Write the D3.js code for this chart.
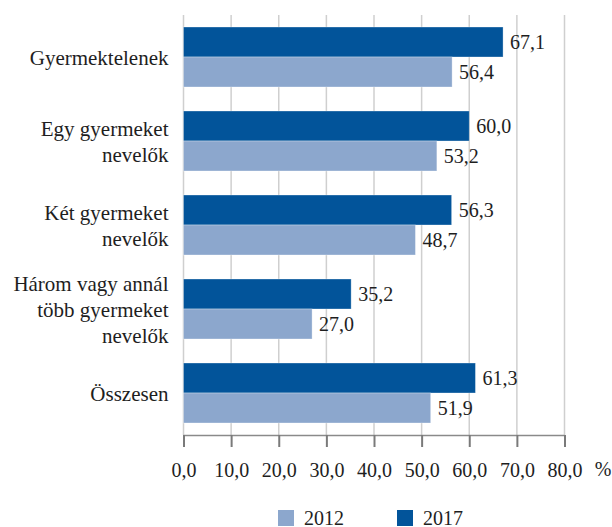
<!DOCTYPE html>
<html>
<head>
<meta charset="utf-8">
<script src="https://d3js.org/d3.v7.min.js"></script>
<style>
  body { margin: 0; background: #fff; }
  svg { display: block; }
  .grid line { stroke: #cfcfcf; stroke-width: 1.5px; }
</style>
</head>
<body>
<svg id="chart" width="612" height="527"></svg>
<script>
// categories, each label split into lines
const categories = [
  ["Gyermektelenek"],
  ["Egy gyermeket", "nevelők"],
  ["Két gyermeket", "nevelők"],
  ["Három vagy annál", "több gyermeket", "nevelők"],
  ["Összesen"]
];
const years = ["2017", "2012"];
const values2017 = [67.1, 60.0, 56.3, 35.2, 61.3];
const values2012 = [56.4, 53.2, 48.7, 27.0, 51.9];
const ticks = [0, 10, 20, 30, 40, 50, 60, 70, 80];
const colors = { "2017": "#02549a", "2012": "#8ca7cd" };

const FONT = "Liberation Serif";
const TXT = "#1e1e1e";

const svg = d3.select("#chart");
const plotLeft = 183.5, plotRight = 564.5, plotTop = 15, plotBottom = 435;

const x = d3.scaleLinear().domain([0, 80]).range([plotLeft, plotRight]);
const y = d3.scaleBand().domain(d3.range(categories.length)).range([plotTop, plotBottom])
            .paddingInner(24 / 84).paddingOuter(12 / 84);
const ySub = d3.scaleBand().domain(years).range([0, y.bandwidth()]);

const fmt = v => v.toFixed(1).replace(".", ",");

// gridlines
svg.append("g").attr("class", "grid")
  .selectAll("line").data(ticks).join("line")
  .attr("x1", d => x(d)).attr("x2", d => x(d))
  .attr("y1", plotTop).attr("y2", plotBottom);

// bars
const data = [];
categories.forEach((c, i) => {
  data.push({ i: i, year: "2017", v: values2017[i] });
  data.push({ i: i, year: "2012", v: values2012[i] });
});

svg.append("g").selectAll("rect").data(data).join("rect")
  .attr("x", x(0))
  .attr("y", d => y(d.i) + ySub(d.year))
  .attr("width", d => x(d.v) - x(0))
  .attr("height", ySub.bandwidth())
  .attr("fill", d => colors[d.year])
  .attr("stroke", "#ffffff")
  .attr("stroke-opacity", 0.4)
  .attr("stroke-width", 0.8);

svg.append("g").selectAll("text").data(data).join("text")
  .attr("font-family", FONT).attr("font-size", 20).attr("fill", TXT)
  .attr("x", d => x(d.v) + 7)
  .attr("y", d => y(d.i) + ySub(d.year) + ySub.bandwidth() / 2)
  .attr("dy", "0.35em")
  .text(d => fmt(d.v));

// category labels
categories.forEach((lines, i) => {
  const cy = y(i) + y.bandwidth() / 2;
  const lh = 26;
  const t = svg.append("text")
    .attr("font-family", FONT).attr("font-size", 21).attr("fill", TXT)
    .attr("text-anchor", "end")
    .attr("y", cy - (lines.length - 1) * lh / 2 + 1);
  lines.forEach((l, k) => {
    t.append("tspan").attr("x", plotLeft - 15)
      .attr("dy", k === 0 ? "0.35em" : lh)
      .text(l);
  });
});

// bottom axis
const axis = d3.axisBottom(x).tickValues(ticks).tickSize(12).tickPadding(16)
  .tickFormat(d => fmt(d));
const ax = svg.append("g").attr("transform", `translate(0,${plotBottom})`).call(axis);
ax.attr("font-family", FONT).attr("font-size", 20);
ax.select(".domain").attr("stroke", "#8a8a8a").attr("stroke-width", 1.5)
  .attr("d", `M${plotLeft},0.5H${plotRight}`);
ax.selectAll(".tick line").attr("stroke", "#7a7a7a").attr("stroke-width", 2);
ax.selectAll(".tick text").attr("fill", TXT);

svg.append("text")
  .attr("font-family", FONT).attr("font-size", 20).attr("fill", TXT)
  .attr("x", 603).attr("y", 476)
  .attr("text-anchor", "middle").text("%");

// legend
const legend = [{ year: "2012", x: 278 }, { year: "2017", x: 397 }];
const lg = svg.append("g").selectAll("g").data(legend).join("g")
  .attr("transform", d => `translate(${d.x},510)`);
lg.append("rect").attr("width", 16).attr("height", 16)
  .attr("fill", d => colors[d.year]);
lg.append("text")
  .attr("font-family", FONT).attr("font-size", 20).attr("fill", TXT)
  .attr("x", 26).attr("y", 14.5)
  .text(d => d.year);
</script>
</body>
</html>
